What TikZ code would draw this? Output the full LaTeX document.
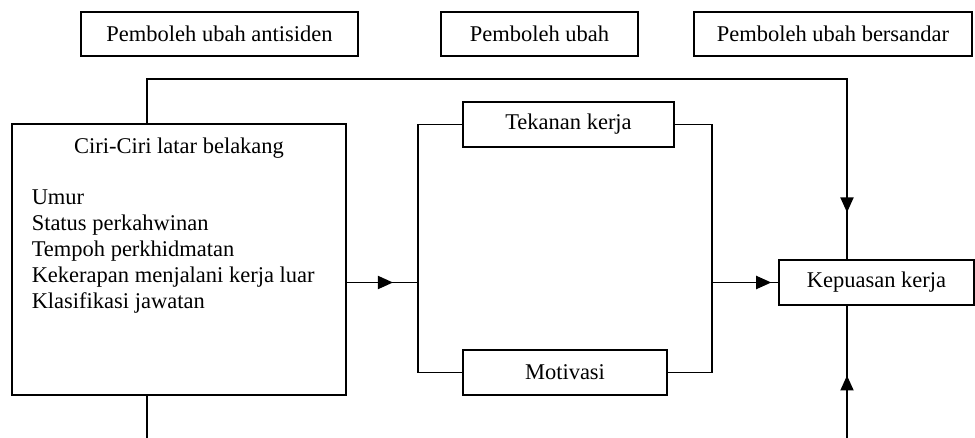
\documentclass[tikz,border=0pt]{standalone}
\usepackage{fontspec}
\setmainfont{Liberation Serif}
\usetikzlibrary{arrows.meta, decorations.markings}

\tikzset{tipat/.style={postaction={decorate},
    decoration={markings, mark=at position #1 with {\arrow{Triangle[length=8pt,width=7pt]}}}}}

\begin{document}
\begin{tikzpicture}[x=0.01875cm, y=-0.01875cm, line width=0.8pt,
                    font=\fontsize{12}{13.9}\selectfont]
\useasboundingbox (0,0) rectangle (975,438);
\begin{scope}[
    every node/.style={rectangle,draw=black,fill=white,line width=0.8pt,
                       inner sep=0pt,minimum height=0.83cm}]
    \node (1) at (219.5, 34) [minimum width=5.19cm] {Pemboleh ubah antisiden};
    \node (2) at (539.5, 34) [minimum width=3.69cm] {Pemboleh ubah};
    \node (3) at (833, 34) [minimum width=5.21cm] {Pemboleh ubah bersandar};

    % kotak kiri
    \node (4) at (179, 259.5) [minimum width=6.26cm,minimum height=5.08cm] {};

    % pemboleh ubah perantara
    \node (5) at (568.5, 124.5) [minimum width=3.96cm,minimum height=0.84cm] {Tekanan kerja};
    \node (6) at (565, 372.5) [minimum width=3.83cm,minimum height=0.84cm] {Motivasi};

    \node (7) at (876.5, 282.5) [minimum width=3.66cm,minimum height=0.84cm] {Kepuasan kerja};
\end{scope}

\node (4a) at (179, 148) {Ciri-Ciri latar belakang};
\node (4b) at (31, 251.5) [anchor=west,inner sep=0pt,align=left]
    {Umur\\Status perkahwinan\\Tempoh perkhidmatan\\Kekerapan menjalani kerja luar\\Klasifikasi jawatan};

\coordinate (j1) at (418, 282.5);
\coordinate (j2) at (712, 282.5);
\coordinate (t1) at (147, 79);
\coordinate (t2) at (847, 79);
\coordinate (b1) at (147, 438);
\coordinate (b2) at (847, 438);

\begin{scope}[line cap=rect]
    \draw [tipat=-0.47cm] (4.east |- 7.west) -- (j1);
    \draw (5.west) -| (j1) |- (6.west);
    \draw (5.east) -| (j2) |- (6.east);
    \draw [tipat=-0.13cm] (j2) -- (7.west);

    \draw [tipat=-0.88cm] (4.north -| t1) -- (t1) -- (t2) -- (t2 |- 7.north);
    \draw [tipat=-1.31cm] (b2) -- (b2 |- 7.south);
    \draw (4.south -| b1) -- (b1);
\end{scope}
\end{tikzpicture}
\end{document}
